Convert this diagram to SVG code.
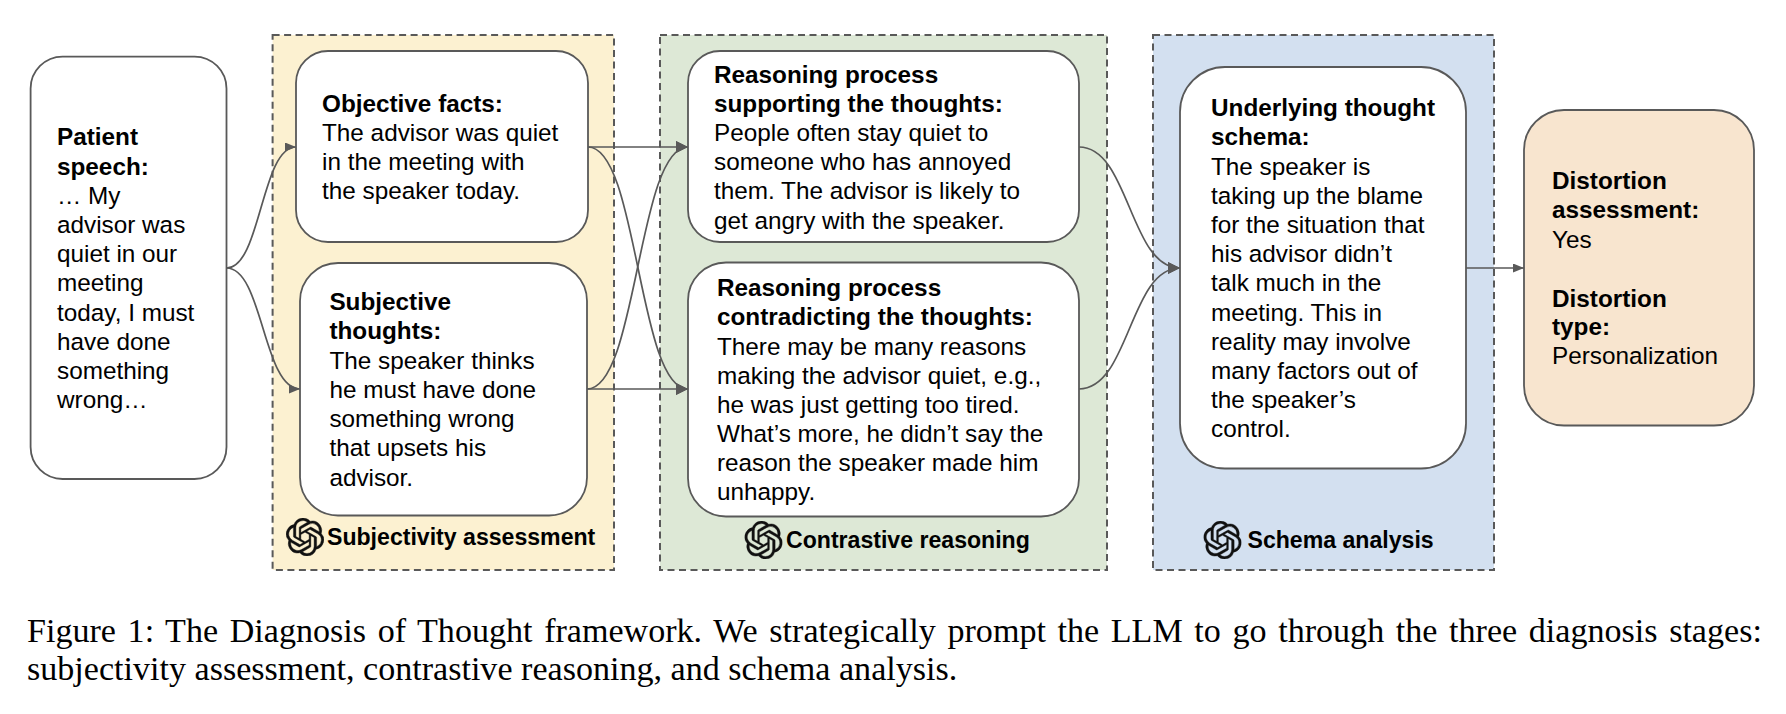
<svg xmlns="http://www.w3.org/2000/svg" xmlns:xlink="http://www.w3.org/1999/xlink" width="1786" height="714" viewBox="0 0 1786 714">
<style>
text{font-family:"Liberation Sans",Arial,sans-serif;font-size:24.3px;fill:#000}
.b{font-weight:700}
.lab{font-size:23.1px;font-weight:700}
.panel{stroke:#595959;stroke-width:2;stroke-dasharray:7 4.5}
.node{fill:#fff;stroke:#595959;stroke-width:1.8}
.c{fill:none;stroke:#595959;stroke-width:1.7}
.cap{font-family:"Liberation Serif","Times New Roman",serif;font-size:34.1px}
</style>
<defs>
<marker id="big" markerUnits="userSpaceOnUse" markerWidth="13" markerHeight="13" refX="12" refY="6" orient="auto"><path d="M0 0L12 6L0 12Z" fill="#595959"/></marker>
<marker id="small" markerUnits="userSpaceOnUse" markerWidth="12" markerHeight="10" refX="11" refY="4.5" orient="auto"><path d="M0 0L11 4.5L0 9Z" fill="#595959"/></marker>
<symbol id="logo" viewBox="0 0 24 24"><path fill="#111" stroke="#111" stroke-width="0.25" d="M22.2819 9.8211a5.9847 5.9847 0 0 0-.5157-4.9108 6.0462 6.0462 0 0 0-6.5098-2.9A6.0651 6.0651 0 0 0 4.9807 4.1818a5.9847 5.9847 0 0 0-3.9977 2.9 6.0462 6.0462 0 0 0 .7427 7.0966 5.98 5.98 0 0 0 .511 4.9107 6.051 6.051 0 0 0 6.5146 2.9001A5.9847 5.9847 0 0 0 13.2599 24a6.0557 6.0557 0 0 0 5.7718-4.2058 5.9894 5.9894 0 0 0 3.9977-2.9001 6.0557 6.0557 0 0 0-.7475-7.0729zm-9.022 12.6081a4.4755 4.4755 0 0 1-2.8764-1.0408l.1419-.0804 4.7783-2.7582a.7948.7948 0 0 0 .3927-.6813v-6.7369l2.02 1.1686a.071.071 0 0 1 .038.052v5.5826a4.504 4.504 0 0 1-4.4945 4.4944zm-9.6607-4.1254a4.4708 4.4708 0 0 1-.5346-3.0137l.142.0852 4.783 2.7582a.7712.7712 0 0 0 .7806 0l5.8428-3.3685v2.3324a.0804.0804 0 0 1-.0332.0615L9.74 19.9502a4.4992 4.4992 0 0 1-6.1408-1.6464zM2.3408 7.8956a4.485 4.485 0 0 1 2.3655-1.9728V11.6a.7664.7664 0 0 0 .3879.6765l5.8144 3.3543-2.0201 1.1685a.0757.0757 0 0 1-.071 0l-4.8303-2.7865A4.504 4.504 0 0 1 2.3408 7.872zm16.5963 3.8558L13.1038 8.364 15.1192 7.2a.0757.0757 0 0 1 .071 0l4.8303 2.7913a4.4944 4.4944 0 0 1-.6765 8.1042v-5.6772a.79.79 0 0 0-.407-.667zm2.0107-3.0231l-.142-.0852-4.7735-2.7818a.7759.7759 0 0 0-.7854 0L9.409 9.2297V6.8974a.0662.0662 0 0 1 .0284-.0615l4.8303-2.7866a4.4992 4.4992 0 0 1 6.6802 4.66zM8.3065 12.863l-2.02-1.1638a.0804.0804 0 0 1-.038-.0567V6.0742a4.4992 4.4992 0 0 1 7.3757-3.4537l-.142.0805L8.704 5.459a.7948.7948 0 0 0-.3927.6813zm1.0976-2.3654l2.602-1.4998 2.6069 1.4998v2.9994l-2.5974 1.4997-2.6067-1.4997Z"/></symbol>
</defs>
<rect width="1786" height="714" fill="#fff"/>

<g id="panel-subjectivity">
<rect class="panel" x="272.6" y="35" width="341.4" height="535" fill="#fcf1d1"/>
<use xlink:href="#logo" href="#logo" x="286" y="518" width="38" height="38"/>
<text class="lab" x="327" y="544.8">Subjectivity assessment</text>
</g>
<g id="panel-contrastive">
<rect class="panel" x="660" y="35" width="447" height="535" fill="#dde8d6"/>
<use xlink:href="#logo" href="#logo" x="744.500" y="521" width="38" height="38"/>
<text class="lab" x="786" y="548">Contrastive reasoning</text>
</g>
<g id="panel-schema">
<rect class="panel" x="1153" y="35" width="341" height="535" fill="#d3e0f0"/>
<use xlink:href="#logo" href="#logo" x="1203.500" y="521" width="38" height="38"/>
<text class="lab" x="1247.500" y="548">Schema analysis</text>
</g>

<g id="connectors">
<path class="c" marker-end="url(#small)" d="M226.5 268C261 268 261 147 296 147"/>
<path class="c" marker-end="url(#small)" d="M226.5 268C263 268 263 389 300 389"/>
<path class="c" marker-end="url(#big)" d="M588 147H688"/>
<path class="c" marker-end="url(#big)" d="M588 147C638 147 638 389 688 389"/>
<path class="c" marker-end="url(#big)" d="M587 389C637.500 389 637.500 147 688 147"/>
<path class="c" marker-end="url(#big)" d="M587 389H688"/>
<path class="c" marker-end="url(#big)" d="M1079 147C1129.500 147 1129.500 268 1180 268"/>
<path class="c" marker-end="url(#big)" d="M1079 389C1129.500 389 1129.500 268 1180 268"/>
<path class="c" marker-end="url(#small)" d="M1466 268H1524"/>
</g>

<g id="node-patient">
<rect class="node" x="30.600" y="56.600" width="195.900" height="422.400" rx="32"/>
<text x="57"><tspan class="b" x="57" y="145.400">Patient</tspan><tspan class="b" x="57" y="174.600">speech:</tspan><tspan x="57" y="203.800">… My</tspan><tspan x="57" y="233">advisor was</tspan><tspan x="57" y="262">quiet in our</tspan><tspan x="57" y="291">meeting</tspan><tspan x="57" y="320.500">today, I must</tspan><tspan x="57" y="349.500">have done</tspan><tspan x="57" y="378.700">something</tspan><tspan x="57" y="408">wrong…</tspan></text>
</g>
<g id="node-objective">
<rect class="node" x="296" y="51" width="292" height="191" rx="32"/>
<text><tspan class="b" x="322" y="111.700">Objective facts:</tspan><tspan x="322" y="141">The advisor was quiet</tspan><tspan x="322" y="170">in the meeting with</tspan><tspan x="322" y="199">the speaker today.</tspan></text>
</g>
<g id="node-subjective">
<rect class="node" x="300" y="263" width="287" height="252.500" rx="38"/>
<text><tspan class="b" x="329.400" y="310">Subjective</tspan><tspan class="b" x="329.400" y="339">thoughts:</tspan><tspan x="329.400" y="368.500">The speaker thinks</tspan><tspan x="329.400" y="397.500">he must have done</tspan><tspan x="329.400" y="427">something wrong</tspan><tspan x="329.400" y="456">that upsets his</tspan><tspan x="329.400" y="485.500">advisor.</tspan></text>
</g>
<g id="node-supporting">
<rect class="node" x="688" y="51" width="391" height="191" rx="32"/>
<text><tspan class="b" x="714" y="83">Reasoning process</tspan><tspan class="b" x="714" y="112">supporting the thoughts:</tspan><tspan x="714" y="141">People often stay quiet to</tspan><tspan x="714" y="170">someone who has annoyed</tspan><tspan x="714" y="199">them. The advisor is likely to</tspan><tspan x="714" y="228.500">get angry with the speaker.</tspan></text>
</g>
<g id="node-contradicting">
<rect class="node" x="688" y="262.500" width="391" height="254" rx="38"/>
<text><tspan class="b" x="717" y="296">Reasoning process</tspan><tspan class="b" x="717" y="325">contradicting the thoughts:</tspan><tspan x="717" y="354.500">There may be many reasons</tspan><tspan x="717" y="383.500">making the advisor quiet, e.g.,</tspan><tspan x="717" y="413">he was just getting too tired.</tspan><tspan x="717" y="442">What’s more, he didn’t say the</tspan><tspan x="717" y="471">reason the speaker made him</tspan><tspan x="717" y="500">unhappy.</tspan></text>
</g>
<g id="node-schema">
<rect class="node" x="1180" y="67" width="286" height="401.500" rx="45"/>
<text><tspan class="b" x="1211" y="116">Underlying thought</tspan><tspan class="b" x="1211" y="145">schema:</tspan><tspan x="1211" y="174.500">The speaker is</tspan><tspan x="1211" y="204">taking up the blame</tspan><tspan x="1211" y="233">for the situation that</tspan><tspan x="1211" y="262">his advisor didn’t</tspan><tspan x="1211" y="291">talk much in the</tspan><tspan x="1211" y="320.500">meeting. This in</tspan><tspan x="1211" y="350">reality may involve</tspan><tspan x="1211" y="379">many factors out of</tspan><tspan x="1211" y="408">the speaker’s</tspan><tspan x="1211" y="437">control.</tspan></text>
</g>
<g id="node-distortion">
<rect class="node" style="fill:#f8e5cf" x="1524" y="110" width="230" height="315.500" rx="40"/>
<text><tspan class="b" x="1552" y="189">Distortion</tspan><tspan class="b" x="1552" y="218">assessment:</tspan><tspan x="1552" y="247.500">Yes</tspan><tspan class="b" x="1552" y="306.500">Distortion</tspan><tspan class="b" x="1552" y="335">type:</tspan><tspan x="1552" y="364">Personalization</tspan></text>
</g>

<g id="caption">
<text class="cap" x="27" y="642" word-spacing="3.1">Figure 1: The Diagnosis of Thought framework. We strategically prompt the LLM to go through the three diagnosis stages:</text>
<text class="cap" x="27" y="679.500">subjectivity assessment, contrastive reasoning, and schema analysis.</text>
</g>
</svg>
